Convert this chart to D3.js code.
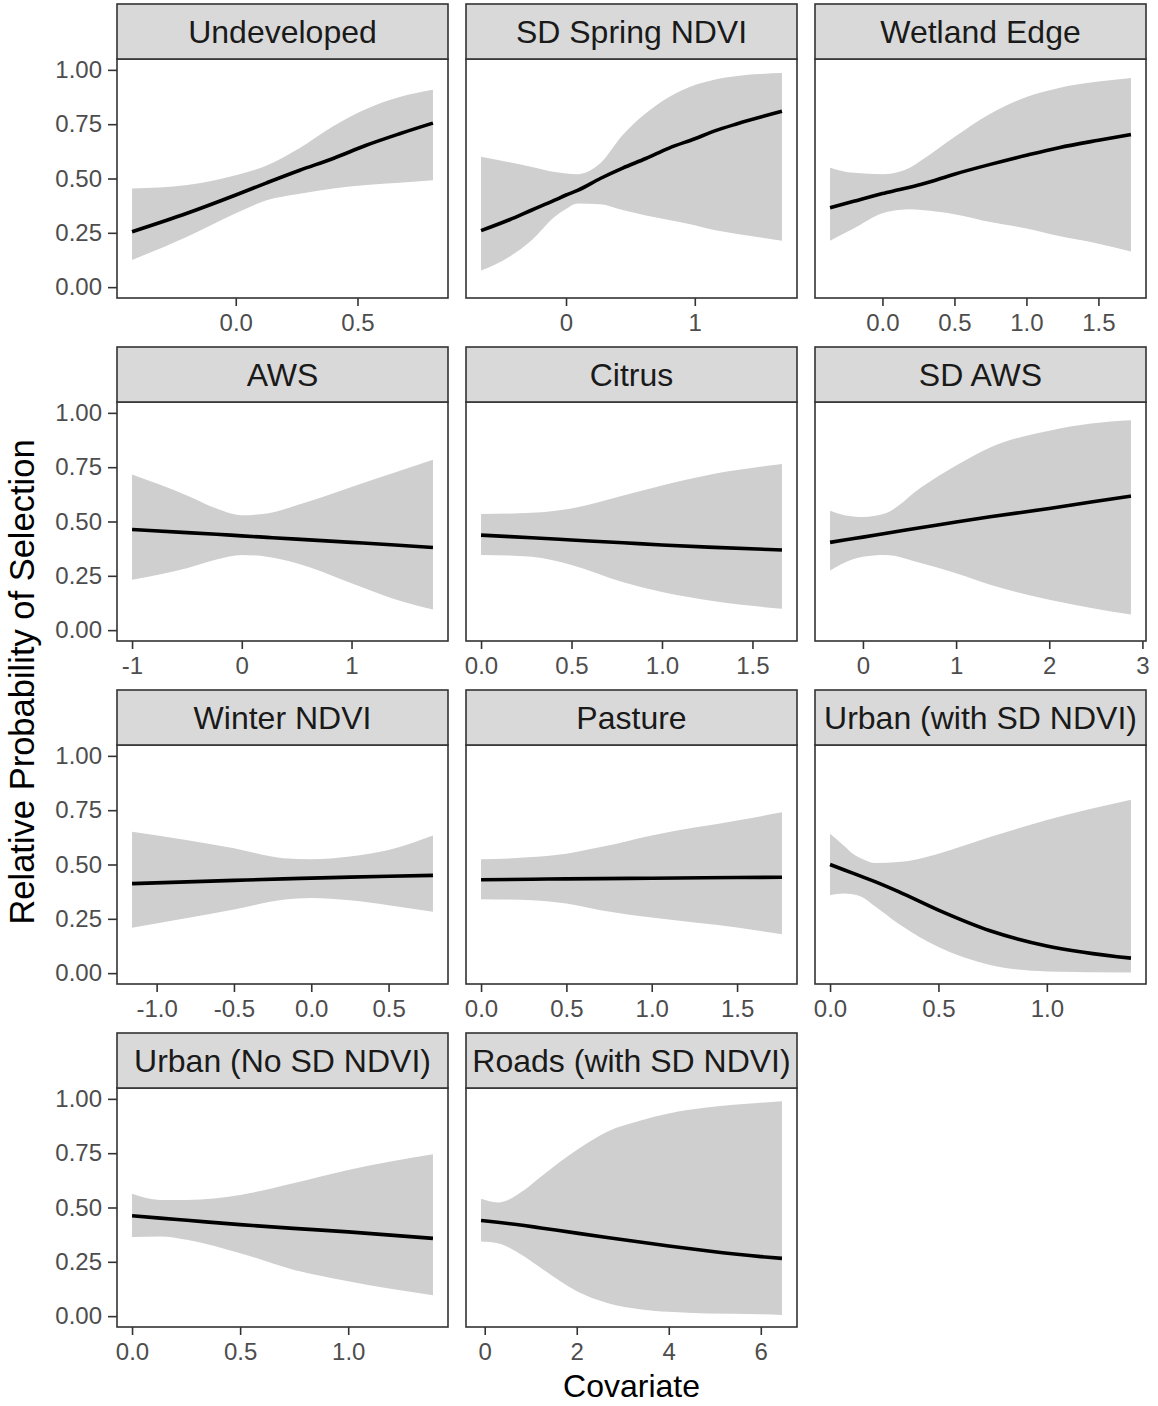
<!DOCTYPE html>
<html>
<head>
<meta charset="utf-8">
<script src="https://cdn.jsdelivr.net/npm/d3@7"></script>
<style>
  body { margin: 0; background: #fff; }
  svg text { font-family: "Liberation Sans", Arial, sans-serif; }
</style>
</head>
<body>
<svg id="chart" width="1158" height="1406"></svg>
<script>
// panel titles, in facet order
var panelNames = ['Undeveloped', 'SD Spring NDVI', 'Wetland Edge', 'AWS', 'Citrus', 'SD AWS',
  'Winter NDVI', 'Pasture', 'Urban (with SD NDVI)', 'Urban (No SD NDVI)', 'Roads (with SD NDVI)']

// x tick values for each panel
var panelTicks = [[0, 0.5], [0, 1], [0, 0.5, 1, 1.5], [-1, 0, 1], [0, 0.5, 1, 1.5], [0, 1, 2, 3],
  [-1, -0.5, 0, 0.5], [0, 0.5, 1, 1.5], [0, 0.5, 1], [0, 0.5, 1], [0, 2, 4, 6]]
var panelTickFmt = ['.1f', 'd', '.1f', 'd', '.1f', 'd', '.1f', '.1f', '.1f', '.1f', 'd']

var yTicks = [0, 0.25, 0.5, 0.75, 1]

// rows: [covariate, lower, fit, upper]
var undevelopedRows = [[-0.426, 0.125, 0.255, 0.454], [-0.2, 0.232, 0.34, 0.47], [0, 0.34, 0.424, 0.515],
  [0.127, 0.40, 0.48, 0.56], [0.263, 0.43, 0.538, 0.64], [0.4, 0.454, 0.592, 0.74],
  [0.536, 0.47, 0.653, 0.82], [0.673, 0.48, 0.706, 0.875], [0.81, 0.492, 0.755, 0.908]]
var sdSpringRows = [[-0.66, 0.076, 0.26, 0.60], [-0.44, 0.14, 0.31, 0.575], [-0.265, 0.217, 0.355, 0.553],
  [-0.088, 0.324, 0.40, 0.53], [0, 0.36, 0.424, 0.523], [0.09, 0.385, 0.445, 0.52],
  [0.266, 0.382, 0.50, 0.57], [0.44, 0.355, 0.548, 0.70], [0.62, 0.33, 0.592, 0.80],
  [0.80, 0.309, 0.64, 0.875], [1.0, 0.285, 0.683, 0.93], [1.15, 0.263, 0.718, 0.955],
  [1.33, 0.245, 0.752, 0.972], [1.677, 0.214, 0.809, 0.985]]
var wetlandRows = [[-0.364, 0.214, 0.365, 0.55], [-0.2, 0.27, 0.395, 0.526], [0, 0.34, 0.431, 0.52],
  [0.112, 0.355, 0.448, 0.53], [0.19, 0.358, 0.46, 0.55], [0.271, 0.355, 0.473, 0.584],
  [0.5, 0.336, 0.52, 0.691], [0.749, 0.30, 0.565, 0.798], [1.0, 0.27, 0.607, 0.875],
  [1.226, 0.235, 0.642, 0.917], [1.5, 0.2, 0.676, 0.946], [1.726, 0.164, 0.702, 0.963]]
var awsRows = [[-1.0, 0.232, 0.463, 0.716], [-0.5, 0.285, 0.449, 0.62], [-0.23, 0.325, 0.441, 0.56],
  [0, 0.346, 0.434, 0.529], [0.23, 0.338, 0.427, 0.537], [0.5, 0.308, 0.419, 0.575],
  [1.0, 0.216, 0.404, 0.659], [1.36, 0.148, 0.393, 0.72], [1.742, 0.095, 0.38, 0.784]]
var citrusRows = [[0, 0.346, 0.4375, 0.534], [0.28, 0.338, 0.425, 0.54], [0.5, 0.30, 0.415, 0.56],
  [0.786, 0.22, 0.402, 0.62], [1.0, 0.175, 0.392, 0.666], [1.29, 0.133, 0.381, 0.72],
  [1.663, 0.098, 0.369, 0.765]]
var sdAwsRows = [[-0.353, 0.274, 0.404, 0.549], [-0.2, 0.31, 0.415, 0.529], [0, 0.338, 0.428, 0.521],
  [0.236, 0.346, 0.445, 0.537], [0.63, 0.308, 0.472, 0.659], [1.0, 0.262, 0.498, 0.758],
  [1.366, 0.209, 0.522, 0.841], [2.0, 0.14, 0.56, 0.918], [2.45, 0.102, 0.59, 0.951],
  [2.877, 0.072, 0.617, 0.966]]
var winterRows = [[-1.159, 0.209, 0.412, 0.651], [-0.5, 0.293, 0.427, 0.575], [-0.18, 0.338, 0.434, 0.529],
  [0, 0.346, 0.4375, 0.524], [0.25, 0.335, 0.442, 0.537], [0.5, 0.3125, 0.446, 0.567],
  [0.787, 0.282, 0.45, 0.634]]
var pastureRows = [[0, 0.34, 0.43, 0.524], [0.3, 0.336, 0.432, 0.534], [0.5, 0.32, 0.434, 0.55],
  [0.7, 0.29, 0.435, 0.58], [1.0, 0.256, 0.437, 0.634], [1.5, 0.21, 0.44, 0.702],
  [1.763, 0.179, 0.441, 0.74]]
var urbanSdRows = [[0, 0.359, 0.5, 0.641], [0.063, 0.366, 0.476, 0.588], [0.105, 0.363, 0.46, 0.55],
  [0.147, 0.35, 0.444, 0.527], [0.21, 0.305, 0.42, 0.507], [0.316, 0.227, 0.375, 0.511],
  [0.5, 0.12, 0.29, 0.55], [0.738, 0.038, 0.195, 0.626], [1.0, 0.008, 0.125, 0.705],
  [1.388, 0.003, 0.069, 0.798]]
var urbanNoSdRows = [[0, 0.364, 0.462, 0.563], [0.13, 0.367, 0.451, 0.535], [0.254, 0.352, 0.441, 0.535],
  [0.5, 0.29, 0.421, 0.558], [0.746, 0.214, 0.404, 0.612], [1.0, 0.16, 0.388, 0.673],
  [1.392, 0.096, 0.358, 0.745]]
var roadsRows = [[-0.08, 0.344, 0.44, 0.54], [0.28, 0.336, 0.432, 0.523], [0.86, 0.275, 0.417, 0.581],
  [1.22, 0.222, 0.406, 0.642], [2.0, 0.115, 0.382, 0.765], [2.66, 0.061, 0.362, 0.849],
  [3.41, 0.031, 0.34, 0.902], [4.0, 0.02, 0.323, 0.933], [4.82, 0.012, 0.301, 0.96],
  [6.0, 0.009, 0.274, 0.982], [6.46, 0.005, 0.266, 0.989]]

var panelRows = [undevelopedRows, sdSpringRows, wetlandRows, awsRows, citrusRows, sdAwsRows,
  winterRows, pastureRows, urbanSdRows, urbanNoSdRows, roadsRows]

// layout
var colLeft = [117, 466, 815]
var rowTop = [4, 347, 690, 1033]
var panelW = 331
var stripH = 55
var panelH = 239

var svg = d3.select('#chart')

function fmtTick(f){
  var fmt = d3.format(f)
  return function(v){ return fmt(v).replace('\u2212', '-') }
}

panelNames.forEach(function(name, i){
  var col = i % 3
  var row = Math.floor(i / 3)
  var rows = panelRows[i]
  var x0 = colLeft[col]
  var top = rowTop[row] + stripH
  var g = svg.append('g').attr('class', 'panel')

  var lo = rows[0][0], hi = rows[rows.length - 1][0]
  var pad = (hi - lo) * 0.05
  var x = d3.scaleLinear().domain([lo - pad, hi + pad]).range([x0, x0 + panelW])
  var y = d3.scaleLinear().domain([-0.05, 1.05]).range([top + panelH, top])

  // confidence band
  var area = d3.area()
    .x(function(d){ return x(d[0]) })
    .y0(function(d){ return y(d[1]) })
    .y1(function(d){ return y(d[3]) })
    .curve(d3.curveMonotoneX)
  g.append('path').datum(rows)
    .attr('d', area)
    .attr('fill', '#cfcfcf')

  // fitted line
  var line = d3.line()
    .x(function(d){ return x(d[0]) })
    .y(function(d){ return y(d[2]) })
    .curve(d3.curveMonotoneX)
  g.append('path').datum(rows)
    .attr('d', line)
    .attr('fill', 'none')
    .attr('stroke', '#000')
    .attr('stroke-width', 3.6)

  // panel border
  g.append('rect')
    .attr('x', x0).attr('y', top)
    .attr('width', panelW).attr('height', panelH)
    .attr('fill', 'none').attr('stroke', '#333').attr('stroke-width', 1.6)

  // strip
  g.append('rect')
    .attr('x', x0).attr('y', rowTop[row])
    .attr('width', panelW).attr('height', stripH)
    .attr('fill', '#d9d9d9').attr('stroke', '#333').attr('stroke-width', 1.6)
  g.append('text')
    .attr('x', x0 + panelW / 2).attr('y', rowTop[row] + 39)
    .attr('text-anchor', 'middle')
    .attr('font-size', 32)
    .attr('fill', '#1a1a1a')
    .text(name)

  // x axis
  var xAxis = g.append('g')
    .attr('transform', 'translate(0,' + (top + panelH) + ')')
    .call(d3.axisBottom(x).tickValues(panelTicks[i]).tickFormat(fmtTick(panelTickFmt[i]))
      .tickSize(8).tickPadding(8))
  styleAxis(xAxis)

  // y axis, first column only
  if(col == 0){
    var yAxis = g.append('g')
      .attr('transform', 'translate(' + x0 + ',0)')
      .call(d3.axisLeft(y).tickValues(yTicks).tickFormat(d3.format('.2f'))
        .tickSize(9).tickPadding(6))
    styleAxis(yAxis)
  }
})

function styleAxis(a){
  a.select('.domain').remove()
  a.selectAll('.tick line').attr('stroke', '#333').attr('stroke-width', 1.6)
  a.selectAll('.tick text')
    .attr('fill', '#4d4d4d')
    .attr('font-size', 24)
    .style('font-family', '"Liberation Sans", Arial, sans-serif')
}

// axis titles
svg.append('text')
  .attr('x', 631.5).attr('y', 1397)
  .attr('text-anchor', 'middle')
  .attr('font-size', 32)
  .attr('fill', '#000')
  .text('Covariate')

svg.append('text')
  .attr('transform', 'translate(34,682) rotate(-90)')
  .attr('text-anchor', 'middle')
  .attr('font-size', 34.5)
  .attr('fill', '#000')
  .text('Relative Probability of Selection')
</script>
</body>
</html>
